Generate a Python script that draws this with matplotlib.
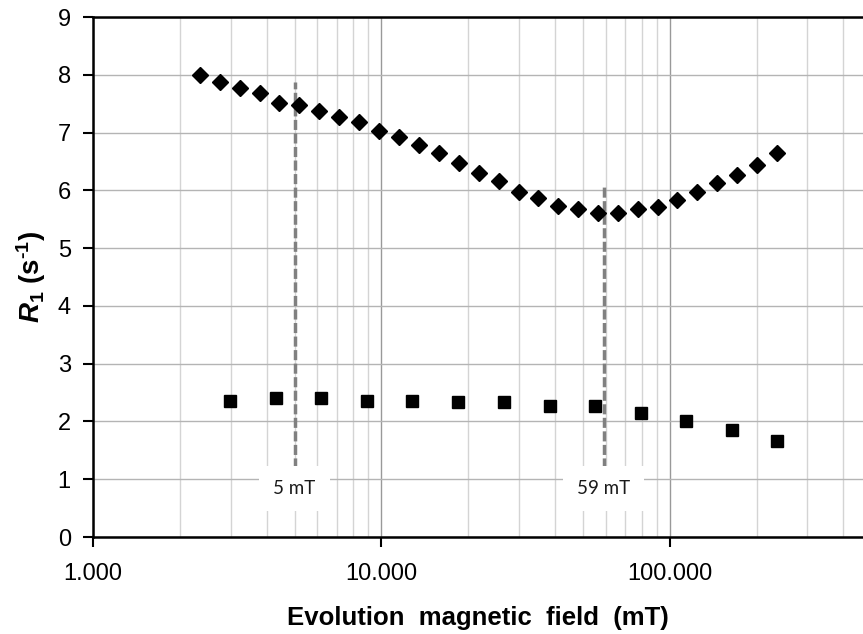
import numpy as np
import matplotlib
matplotlib.use("Agg")
import matplotlib.pyplot as plt
from matplotlib.ticker import FixedLocator, FuncFormatter, NullFormatter, LogLocator

plt.rcParams['font.family'] = ['Liberation Sans', 'DejaVu Sans']
plt.rcParams['mathtext.fontset'] = 'custom'
plt.rcParams['mathtext.rm'] = 'Liberation Sans:bold'
plt.rcParams['mathtext.it'] = 'Liberation Sans:bold:italic'
plt.rcParams['mathtext.bf'] = 'Liberation Sans:bold'

# upper series (diamonds)
field_d = [2.35, 2.76, 3.23, 3.78, 4.43, 5.19, 6.08, 7.14, 8.38, 9.83,
           11.5, 13.5, 15.8, 18.6, 21.8, 25.5, 29.9, 35.0, 41.0, 48.1,
           56.2, 66.1, 77.6, 90.8, 106, 124, 146, 171, 201, 235]
r1_d = [8.00, 7.88, 7.77, 7.68, 7.51, 7.47, 7.38, 7.27, 7.18, 7.03,
        6.93, 6.79, 6.64, 6.47, 6.30, 6.17, 5.97, 5.86, 5.73, 5.67,
        5.60, 5.60, 5.67, 5.71, 5.84, 5.97, 6.12, 6.26, 6.44, 6.64]

# lower series (squares)
field_s = [2.99, 4.31, 6.19, 8.93, 12.8, 18.5, 26.6, 38.3, 55.0, 79.3, 114, 164, 236]
r1_s = [2.35, 2.41, 2.40, 2.35, 2.35, 2.33, 2.33, 2.27, 2.27, 2.14, 2.00, 1.85, 1.66]

# marked fields
marks = [5, 59]
mark_labels = ['5 mT', '59 mT']
mark_tops = [7.88, 6.09]
mark_bottom = 1.19
label_y = 0.84

fig = plt.figure(figsize=(8.63, 6.34), dpi=100)
ax = fig.add_axes([93/863, 1 - 537/634, 1 - 93/863, (537 - 17)/634])

ax.set_xscale('log')
ax.set_xlim(1, 468)
ax.set_ylim(0, 9)

ax.xaxis.set_major_locator(FixedLocator([1, 10, 100]))
ax.xaxis.set_major_formatter(FuncFormatter(lambda v, p: f'{v:.3f}'))
ax.xaxis.set_minor_locator(LogLocator(base=10, subs=np.arange(2, 10)))
ax.xaxis.set_minor_formatter(NullFormatter())
ax.set_yticks(range(0, 10))

ax.grid(True, which='major', axis='y', color='#b4b4b4', lw=1.0)
ax.grid(True, which='major', axis='x', color='#999999', lw=1.0)
ax.grid(True, which='minor', axis='x', color='#d4d4d4', lw=1.0)
ax.set_axisbelow(True)

ax.tick_params(axis='both', which='major', direction='out', length=7, width=1.5,
               labelsize=17, colors='black')
ax.tick_params(axis='x', which='major', pad=12)
ax.tick_params(axis='y', which='major', pad=9)
ax.tick_params(axis='x', which='minor', length=0)

for s in ['left', 'bottom', 'top']:
    ax.spines[s].set_linewidth(1.8)
    ax.spines[s].set_color('black')
ax.spines['right'].set_visible(False)

for xm, top, lab in zip(marks, mark_tops, mark_labels):
    ax.plot([xm, xm], [mark_bottom, top], color='#808080', lw=2.5,
            dashes=(2.9, 1.0), zorder=2)
    ax.text(xm, label_y, lab, ha='center', va='center', fontsize=13.5,
            family=['Lato', 'DejaVu Sans'], color='#1a1a1a', zorder=3,
            bbox=dict(facecolor='white', edgecolor='none', boxstyle='square,pad=0.75'))

ax.plot(field_d, r1_d, linestyle='none', marker='D', ms=8, color='black', zorder=4)
ax.plot(field_s, r1_s, linestyle='none', marker='s', ms=9, color='black', zorder=4)

ax.set_xlabel('Evolution  magnetic  field  (mT)', fontsize=18.5, fontweight='bold', labelpad=15)
ax.set_ylabel(r'$\mathit{R}_{1}$' + ' (s$^{\u2010 1}$)', fontsize=20, fontweight='bold', labelpad=7)

fig.savefig('out.png', dpi=100)
